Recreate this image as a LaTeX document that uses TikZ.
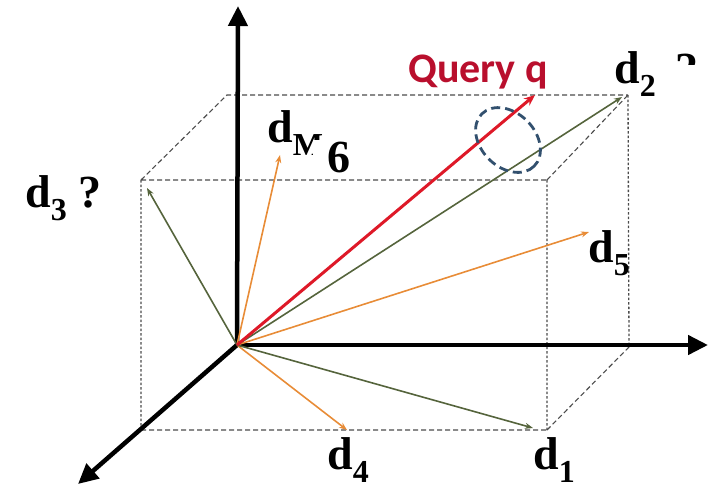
\documentclass[tikz,border=0pt]{standalone}
\usepackage{fontspec}
\setmainfont{Liberation Serif}
\newfontfamily\queryfont{Carlito}
\usetikzlibrary{arrows.meta}
\definecolor{queryred}{RGB}{222,25,40}
\definecolor{querytext}{RGB}{185,15,45}
\definecolor{docgreen}{RGB}{85,100,60}
\definecolor{docorange}{RGB}{232,140,55}
\definecolor{simblue}{RGB}{50,80,110}
\newcommand{\dsub}[1]{d\raisebox{-13pt}{\fontsize{32}{32}\selectfont #1}}

\tikzset{
  axis/.style={line width=4.5pt, -{Triangle[length=20pt,width=19pt]}},
  boxedge/.style={draw=black!70, line width=1.1pt, dash pattern=on 5pt off 3pt},
  boxpost/.style={draw=black!70, line width=1.3pt, dash pattern=on 2.5pt off 2pt},
  docvec/.style={line width=1.6pt, -{Stealth[length=8pt,width=6pt]}},
  doclabel/.style={anchor=base west, inner sep=0pt, font=\fontsize{46}{46}\selectfont\bfseries},
}

\begin{document}
\begin{tikzpicture}[x=1pt,y=-1pt]
\useasboundingbox (0,0) rectangle (712,491);

\coordinate (O) at (237,345);
\coordinate (yaxis) at (238,6);
\coordinate (xaxis) at (708,345);
\coordinate (zaxis) at (78,484);

\coordinate (fbl) at (141,430);
\coordinate (fbr) at (547,430);
\coordinate (ftl) at (141,180);
\coordinate (ftr) at (547,180);
\coordinate (btl) at (227,95);
\coordinate (btr) at (628,95);
\coordinate (bbr) at (629,347);

\draw[boxedge] (ftl) -- (ftr) (fbl) -- (fbr) (ftl) -- (btl) -- (btr) (ftr) -- (btr) (fbr) -- (bbr);
\draw[boxpost] (ftl) -- (fbl) (ftr) -- (fbr) (btr) -- (bbr);

\draw[axis] (O) -- (yaxis);
\draw[axis] (O) -- (xaxis);
\draw[axis] (O) -- (zaxis);

\coordinate (q) at (535,95);
\coordinate (d1) at (533,428);
\coordinate (d2) at (622,97);
\coordinate (d3) at (147,188);
\coordinate (d4) at (347,430);
\coordinate (d5) at (589,232);
\coordinate (d6) at (280,155);

\draw[docvec, docorange] (O) -- (d6);
\draw[docvec, docorange] (O) -- (d5);
\draw[docvec, docorange] (O) -- (d4);
\draw[docvec, docgreen] (O) -- (d3);
\draw[docvec, docgreen] (O) -- (d2);
\draw[docvec, docgreen] (O) -- (d1);
\draw[queryred, line width=3pt, -{Stealth[length=11pt,width=9pt]}] (O) -- (q);

\draw[simblue, line width=2.8pt, dash pattern=on 9pt off 5pt, rotate around={-45:(508,140)}] (508,140) ellipse [x radius=37, y radius=27];

\node[anchor=base west, inner sep=0pt, text=querytext, font=\queryfont\fontsize{42}{42}\selectfont\bfseries] (qlabel) at (408,82) {Query q};
\node[doclabel] (l3) at (25,207) {\dsub{3} ?};
\node[doclabel] (l4) at (327,469) {\dsub{4}};
\node[doclabel] (l1) at (533,469) {\dsub{1}};
\node[doclabel] (l5) at (588,262) {\dsub{5}};
\node[doclabel] (l2) at (614,83) {\dsub{2}};
\node[doclabel] (lM) at (267,142) {\dsub{M}};
\node[doclabel, fill=white, inner xsep=14pt, inner ysep=2pt] (l6) at (313,172) {6};
\begin{scope}
\clip (670,48) rectangle (712,64);
\node[doclabel] (l2q) at (675,84) {?};
\end{scope}
\end{tikzpicture}
\end{document}
